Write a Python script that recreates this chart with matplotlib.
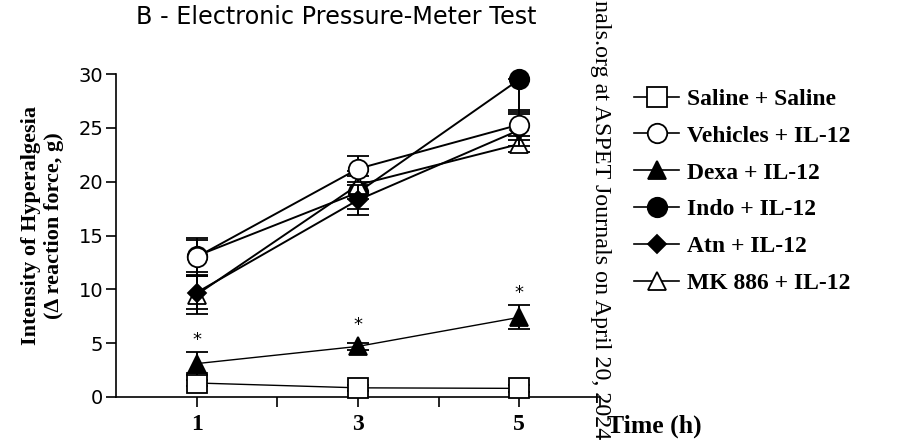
import matplotlib
matplotlib.use('Agg')
import matplotlib.pyplot as plt
import numpy as np

plt.rcParams['font.family'] = 'DejaVu Sans'

# time points (h)
hours = [1, 3, 5]

# series values (g)
saline = [1.3, 0.85, 0.8]
vehicles = [13.0, 21.2, 25.3]
dexa = [3.1, 4.7, 7.4]
indo = [13.1, 19.0, 29.5]
atn = [9.7, 18.3, 24.8]
mk886 = [9.5, 19.7, 23.5]

# error bars (lower, upper)
saline_err = [[0.3, 0.3, 0.3], [0.3, 0.3, 0.3]]
vehicles_err = [[1.8, 1.2, 1.4], [1.8, 1.2, 1.4]]
dexa_err = [[1.1, 0.3, 1.1], [1.1, 0.3, 1.1]]
indo_err = [[1.5, 1.5, 3.0], [1.5, 1.5, 0.0]]
atn_err = [[1.5, 1.4, 1.5], [1.5, 1.4, 1.5]]
mk886_err = [[1.8, 1.3, 0.7], [1.8, 1.3, 0.7]]

labels = ['Saline + Saline', 'Vehicles + IL-12', 'Dexa + IL-12',
          'Indo + IL-12', 'Atn + IL-12', 'MK 886 + IL-12']

# significance stars (Dexa)
star_y = [5.3, 6.7, 9.7]

fig = plt.figure(figsize=(8.97, 4.46), dpi=100)
ax = fig.add_axes([0.1293, 0.1099, 0.5396, 0.7241])

series = [
    (saline, saline_err, 's', 'white', 14, 1.0, 3),
    (vehicles, vehicles_err, 'o', 'white', 14, 1.4, 6),
    (dexa, dexa_err, '^', 'black', 13, 1.0, 4),
    (indo, indo_err, 'o', 'black', 14, 1.4, 2),
    (atn, atn_err, 'D', 'black', 9, 1.4, 5),
    (mk886, mk886_err, '^', 'white', 13, 1.4, 4),
]

handles = []
for (vals, err, mk, fc, ms, lw, z), lab in zip(series, labels):
    ax.errorbar(hours, vals, yerr=err, color='black', marker=mk,
                markerfacecolor=fc, markeredgecolor='black', markersize=ms,
                markeredgewidth=1.3, lw=lw, elinewidth=1.4, capsize=8,
                capthick=1.4, zorder=z, clip_on=False)
    h, = ax.plot([], [], color='black', marker=mk, markerfacecolor=fc,
                 markeredgecolor='black', markersize=ms, markeredgewidth=1.3, lw=1.2)
    handles.append(h)

for x, y in zip(hours, star_y):
    ax.text(x, y, '*', ha='center', va='center', fontsize=13)

ax.set_xlim(0, 6)
ax.set_ylim(0, 30)
ax.set_xticks([1, 3, 5])
ax.set_xticks([2, 4, 6], minor=True)
ax.set_xticklabels(['1', '3', '5'], fontfamily='Liberation Serif',
                   fontweight='bold', fontsize=17)
ax.set_yticks(np.arange(0, 31, 5))
ax.tick_params(axis='y', labelsize=14, length=7, width=1.2, direction='out', pad=2)
ax.tick_params(axis='x', which='both', length=7, width=1.2, direction='out', pad=5)
ax.spines['top'].set_visible(False)
ax.spines['right'].set_visible(False)
ax.spines['left'].set_linewidth(1.2)
ax.spines['bottom'].set_linewidth(1.2)

ax.set_ylabel('Intensity of Hyperalgesia\n(\u0394 reaction force, g)',
              fontfamily='Liberation Serif', fontweight='bold', fontsize=16,
              linespacing=1.2)
ax.yaxis.set_label_coords(-0.107, 0.53)

fig.text(0.152, 0.962, 'B - Electronic Pressure-Meter Test', fontsize=17.2,
         ha='left', va='center')
fig.text(0.677, 0.045, 'Time (h)', fontfamily='Liberation Serif',
         fontweight='bold', fontsize=18.5, ha='left', va='center')

# watermark
fig.text(0.669, 1.0, 'nals.org at ASPET Journals on April 20, 2024',
         rotation=270, fontfamily='Liberation Serif', fontsize=17.3,
         ha='center', va='top', color='black')

ax.legend(handles, labels, loc='upper left', bbox_to_anchor=(0.707, 0.802),
          bbox_transform=fig.transFigure, frameon=False, handlelength=1.9,
          handletextpad=0.35, labelspacing=0.65, borderpad=0, borderaxespad=0,
          prop={'family': 'Liberation Serif', 'weight': 'bold', 'size': 17})

plt.savefig('out.png', dpi=100)
